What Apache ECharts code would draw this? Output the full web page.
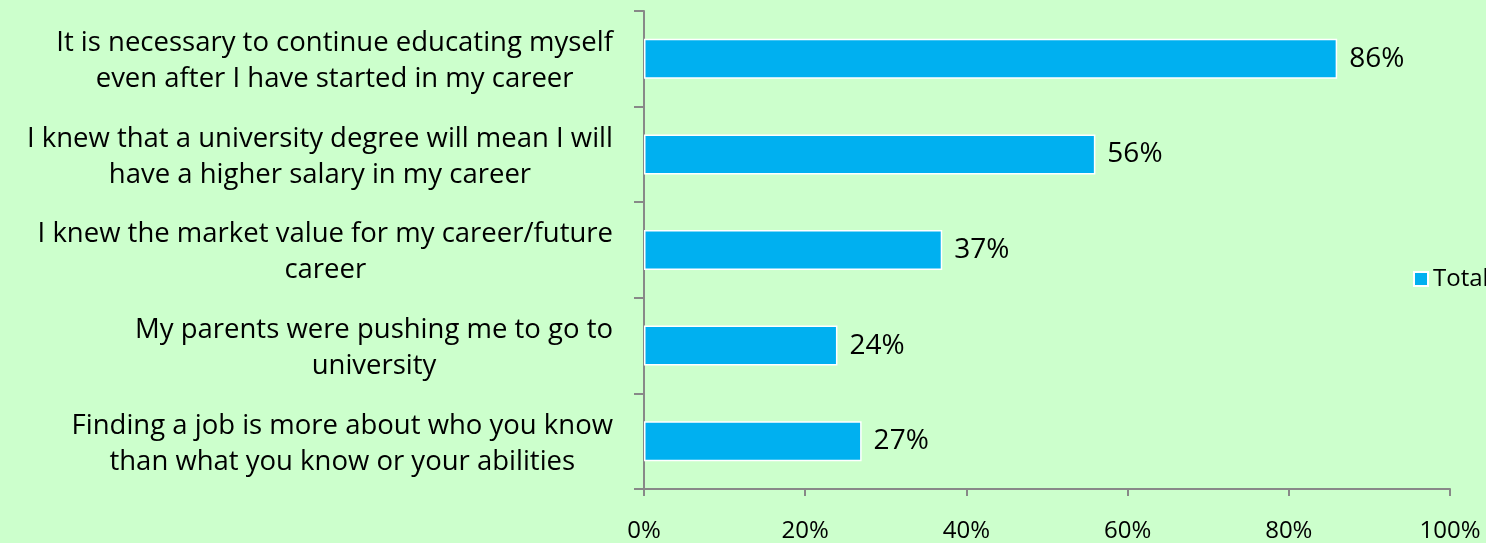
<!DOCTYPE html>
<html>
<head>
<meta charset="utf-8">
<script src="https://cdn.jsdelivr.net/npm/echarts@6/dist/echarts.min.js"></script>
<style>
  html, body { margin: 0; padding: 0; background: #CCFFCC; }
  #chart { width: 1486px; height: 543px; }
</style>
</head>
<body>
<div id="chart"></div>
<script>
// Survey statements, top to bottom
const categories = [
  'It is necessary to continue educating myself\neven after I have started in my career',
  'I knew that a university degree will mean I will\nhave a higher salary in my career',
  'I knew the market value for my career/future\ncareer',
  'My parents were pushing me to go to\nuniversity',
  'Finding a job is more about who you know\nthan what you know or your abilities'
];
// Share of respondents agreeing (%)
const totalValues = [86, 56, 37, 24, 27];
const xTicks = [0, 20, 40, 60, 80, 100];

const FONT = '"Open Sans", "Noto Sans", sans-serif';
const AXIS_GREY = '#888888';

const chart = echarts.init(document.getElementById('chart'));
chart.setOption({
  backgroundColor: '#CCFFCC',
  animation: false,
  textStyle: { fontFamily: FONT },
  grid: { left: 644, right: 36, top: 11, bottom: 53, containLabel: false },
  legend: {
    data: ['Total'],
    left: 1408, top: 262,
    icon: 'rect', itemWidth: 14, itemHeight: 14, itemGap: 9,
    textStyle: { fontSize: 24, color: '#000', fontFamily: FONT }
  },
  xAxis: {
    type: 'value',
    min: xTicks[0], max: xTicks[xTicks.length - 1], interval: 20,
    axisLine: { show: true, lineStyle: { color: AXIS_GREY, width: 2 } },
    axisTick: { show: true, length: 7, lineStyle: { color: AXIS_GREY, width: 2 } },
    splitLine: { show: false },
    axisLabel: { formatter: '{value}%', fontSize: 24, color: '#000', margin: 30, fontFamily: FONT }
  },
  yAxis: {
    type: 'category',
    inverse: true,
    data: categories,
    axisLine: { show: true, lineStyle: { color: AXIS_GREY, width: 2 } },
    axisTick: { show: true, length: 10, lineStyle: { color: AXIS_GREY, width: 2 } },
    axisLabel: {
      margin: 31,
      align: 'right',
      padding: [5, 0, 0, 0],
      // each line centred within the right-aligned label block
      formatter: function (v) {
        return v.split('\n').map(function (line) { return '{c|' + line + '}'; }).join('\n');
      },
      rich: {
        c: { align: 'center', fontSize: 27.5, lineHeight: 36, color: '#000', fontFamily: FONT }
      }
    }
  },
  series: [{
    name: 'Total',
    type: 'bar',
    data: totalValues,
    barWidth: 40,
    itemStyle: { color: '#00B0F0', borderColor: '#ffffff', borderWidth: 1.5 },
    label: {
      show: true, position: 'right', distance: 12,
      formatter: '{c}%', fontSize: 28, color: '#000', fontFamily: FONT
    }
  }]
});
</script>
</body>
</html>
